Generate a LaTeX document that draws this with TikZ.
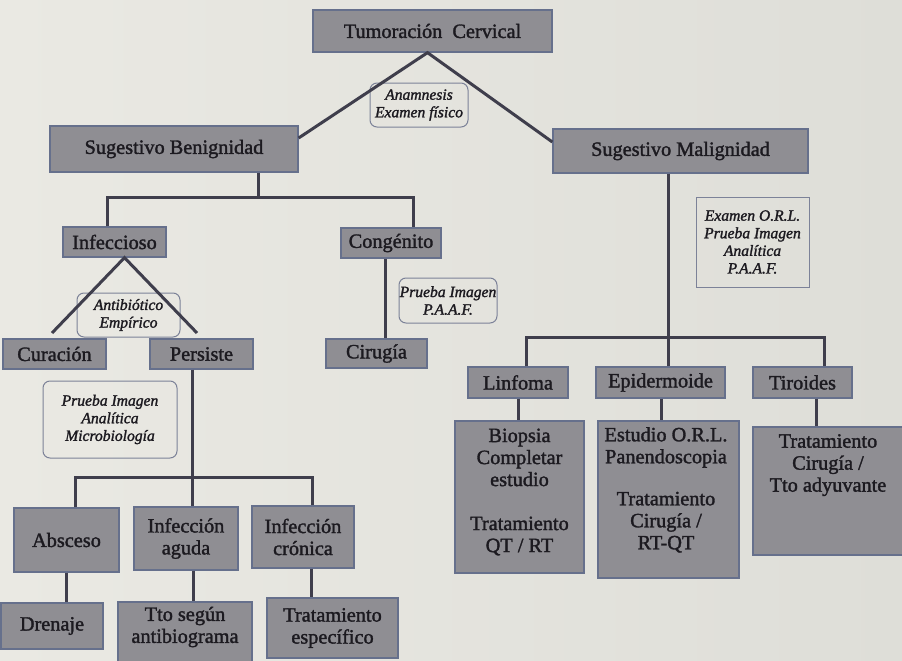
\documentclass[tikz,border=0pt]{standalone}
\usepackage{fontspec}
\setmainfont{Liberation Serif}[FakeBold=1.6]
\definecolor{bgL}{HTML}{EAE9E3}
\definecolor{bgR}{HTML}{DEDED8}
\definecolor{boxfill}{HTML}{8F8E93}
\definecolor{boxline}{HTML}{66708C}
\definecolor{noteline}{HTML}{7C8298}
\definecolor{linkc}{HTML}{3F3E4C}
\definecolor{ink}{HTML}{1C1A20}
\tikzset{
  box/.style={draw=boxline, line width=1.3pt, fill=boxfill, text=ink,
    font=\fontsize{20.3}{22}\selectfont, align=center, inner sep=0pt},
  boxtext/.style={text=ink, font=\fontsize{20.3}{22}\selectfont, align=center, inner sep=0pt},
  note/.style={draw=noteline, line width=1pt, rounded corners=7pt, text=ink,
    font=\fontsize{15.6}{17.6}\selectfont\itshape, align=center, inner sep=0pt},
  sharpnote/.style={note, rounded corners=0pt},
  sz/.style 2 args={minimum width=#1pt, minimum height=#2pt},
  link/.style={draw=linkc, line width=3pt},
}
\begin{document}
\begin{tikzpicture}[x=1pt,y=-1pt]
\shade[left color=bgL, right color=bgR] (0,0) rectangle (902,661);
\useasboundingbox (0,0) rectangle (902,661);
\clip (0,0) rectangle (902,661);

% ---------- nodes ----------
\node[box, sz={239}{42}] (top) at (432.5,31) {Tumoración~ Cervical};
\node[note, sz={98}{44}] (anam) at (419,105) {Anamnesis\\Examen físico};
\node[box, sz={248}{46}] (benig) at (174,149) {Sugestivo Benignidad};
\node[box, sz={255}{44}] (malig) at (680.5,151) {Sugestivo Malignidad};

\node[box, sz={103}{30}] (infec) at (114.5,242) {Infeccioso};
\node[box, sz={100}{30}] (cong) at (391,243) {Congénito};
\node[note, sz={103}{44}] (antib) at (128.5,315) {Antibiótico\\Empírico};
\node[box, sz={103}{30}] (cura) at (54.5,354) {Curación};
\node[box, sz={103}{30}] (pers) at (201.5,354) {Persiste};
\node[box, sz={101}{29}] (ciru) at (376.5,353.5) {Cirugía};
\node[note, sz={98}{45}] (pimgA) at (448,300.5) {Prueba Imagen\\P.A.A.F.};

\node[sharpnote, sz={113}{90}] (exorl) at (752.5,242) {Examen O.R.L.\\Prueba Imagen\\Analítica\\P.A.A.F.};

\node[box, sz={100}{31}] (linf) at (518,382.5) {Linfoma};
\node[box, sz={129}{31}] (epid) at (660.5,382.5) {Epidermoide};
\node[box, sz={99}{31}] (tiro) at (802.5,382.5) {Tiroides};
\node[box, sz={129}{152}] (linfb) at (519.5,497) {};
\node[boxtext] (linft) at (519.5,492) {Biopsia\\Completar\\estudio\\[22pt]Tratamiento\\QT / RT};
\node[box, sz={141}{157}] (epidb) at (668.5,499.5) {};
\node[boxtext, anchor=north] (epidt) at (666,427) {Estudio O.R.L.\\Panendoscopia\\[20pt]Tratamiento\\Cirugía /\\RT-QT};
\node[box, sz={152}{128}] (tirob) at (829,491) {};
\node[boxtext, anchor=north] (tirot) at (828,434) {Tratamiento\\Cirugía /\\Tto adyuvante};

\node[note, sz={134}{77}] (pimgB) at (110,419.5) {Prueba Imagen\\Analítica\\Microbiología};
\node[box, sz={105}{64}] (absc) at (66.5,540) {Absceso};
\node[box, sz={104}{63}] (iag) at (186,538.5) {Infección\\aguda};
\node[box, sz={102}{62}] (icr) at (303,537) {Infección\\crónica};
\node[box, sz={102}{46}] (dren) at (52,626) {Drenaje};
\node[box, sz={134}{68}] (tto) at (185,636) {};
\node[boxtext] (ttot) at (185,627) {Tto según\\antibiograma};
\node[box, sz={131}{60}] (tesp) at (332.5,628) {Tratamiento\\específico};

% ---------- coordinates ----------
\coordinate (bj) at (258,197);
\coordinate (bL) at (107,197);
\coordinate (bR) at (413,197);
\coordinate (cx) at (385,0);
\coordinate (curaT) at (52,333);
\coordinate (persT) at (197,333);
\coordinate (mj) at (668,337);
\coordinate (mL) at (526,337);
\coordinate (mR) at (824,337);
\coordinate (lx) at (518,0);
\coordinate (ex) at (661,0);
\coordinate (tx) at (816,0);
\coordinate (pj) at (192,477);
\coordinate (pL) at (75,477);
\coordinate (pR) at (312,477);
\coordinate (ax) at (66,0);
\coordinate (gx) at (193,0);
\coordinate (kx) at (311,0);

% ---------- connectors ----------
\draw[link] ([yshift=11pt]benig.east) -- ([xshift=-5pt]top.south) -- ([yshift=9pt]malig.west);

\draw[link] (benig.south -| bj) -- (bj);
\draw[link] (infec.north -| bL) -- (bL) -- (bR) -- (cong.north -| bR);
\draw[link] (curaT) -- ([xshift=10pt]infec.south) -- (persT);
\draw[link] (cong.south -| cx) -- (ciru.north -| cx);

\draw[link] (malig.south -| mj) -- (mj);
\draw[link] (linf.north -| mL) -- (mL) -- (mR) -- (tiro.north -| mR);
\draw[link] (mj) -- (epid.north -| mj);
\draw[link] (linf.south -| lx) -- (linfb.north -| lx);
\draw[link] (epid.south -| ex) -- (epidb.north -| ex);
\draw[link] (tiro.south -| tx) -- (tirob.north -| tx);

\draw[link] (pers.south -| pj) -- (pj);
\draw[link] (absc.north -| pL) -- (pL) -- (pR) -- (icr.north -| pR);
\draw[link] (pj) -- (iag.north -| pj);
\draw[link] (absc.south -| ax) -- (dren.north -| ax);
\draw[link] (iag.south -| gx) -- (tto.north -| gx);
\draw[link] (icr.south -| kx) -- (tesp.north -| kx);
\end{tikzpicture}
\end{document}
